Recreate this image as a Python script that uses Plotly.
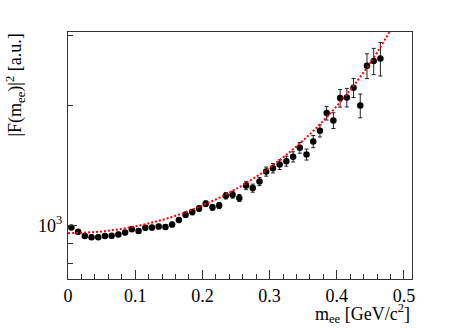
import plotly.graph_objects as go

# bin centres in GeV/c^2
m_ee = [0.005, 0.015, 0.025, 0.035, 0.045, 0.055, 0.065, 0.075, 0.085, 0.095,
        0.105, 0.115, 0.125, 0.135, 0.145, 0.155, 0.165, 0.175, 0.185, 0.195,
        0.205, 0.215, 0.225, 0.235, 0.245, 0.255, 0.265, 0.275, 0.285, 0.295,
        0.305, 0.315, 0.325, 0.335, 0.345, 0.355, 0.365, 0.375, 0.385, 0.395,
        0.405, 0.415, 0.425, 0.435, 0.445, 0.455, 0.465]

ff2 = [987, 963, 940, 934, 934, 940, 941, 949, 959, 978,
       968, 986, 987, 993, 991, 1005, 1031, 1063, 1080, 1102,
       1134, 1110, 1122, 1187, 1195, 1172, 1259, 1241, 1289, 1366,
       1393, 1422, 1451, 1488, 1568, 1508, 1626, 1730, 1917, 1837,
       2091, 2099, 2220, 2003, 2522, 2592, 2632]

ff2_err = [11, 11, 11, 11, 11, 11, 12, 12, 12, 12,
           12, 13, 13, 13, 13, 14, 15, 16, 17, 18,
           19, 19, 20, 22, 24, 24, 29, 29, 30, 36,
           38, 40, 42, 44, 49, 48, 57, 61, 76, 84,
           107, 113, 122, 138, 181, 197, 255]

# fit curve
fit_x = [0.0, 0.05, 0.1, 0.15, 0.2, 0.25, 0.3, 0.35, 0.4, 0.45, 0.5]
fit_y = [956, 965, 994, 1044, 1122, 1235, 1398, 1636, 1996, 2566, 3550]

x_ticks = [0, 0.1, 0.2, 0.3, 0.4, 0.5]
x_ticktext = ["0", "0.1", "0.2", "0.3", "0.4", "0.5"]
y_ticks = [1000]
y_ticktext = ["10<sup>3</sup>"]
y_minor = [800, 900, 2000, 3000]

font = "Liberation Serif, Times New Roman, serif"

fig = go.Figure()

fig.add_trace(go.Scatter(
    x=m_ee, y=ff2,
    mode="markers",
    marker=dict(color="black", size=6.5),
    error_y=dict(type="data", array=ff2_err, color="#222222", thickness=1, width=2),
    showlegend=False
))

fig.add_trace(go.Scatter(
    x=fit_x, y=fit_y,
    mode="lines",
    line=dict(color="#ff0000", width=2, dash="2px,2px", shape="spline"),
    showlegend=False
))

fig.update_layout(
    width=458, height=329,
    margin=dict(l=68, r=46, t=32, b=50),
    paper_bgcolor="white",
    plot_bgcolor="white",
    font=dict(family=font, size=18, color="black"),
    xaxis=dict(
        range=[0, 0.512],
        tickvals=x_ticks, ticktext=x_ticktext,
        ticks="inside", ticklen=9, tickwidth=1, tickcolor="#333333",
        minor=dict(dtick=0.02, tick0=0, ticks="inside", ticklen=5, tickcolor="#333333"),
        showline=True, linecolor="#333333", linewidth=1, mirror=True,
        showgrid=False, zeroline=False, automargin=False,
        tickfont=dict(family=font, size=18),
    ),
    yaxis=dict(
        type="log",
        range=[2.865, 3.4867],
        tickvals=y_ticks, ticktext=y_ticktext,
        ticks="inside", ticklen=9, tickwidth=1, tickcolor="#333333",
        minor=dict(tickvals=y_minor, ticks="inside", ticklen=5, tickcolor="#333333"),
        showline=True, linecolor="#333333", linewidth=1, mirror=True,
        showgrid=False, zeroline=False, automargin=False,
        ticklabelstandoff=1,
        tickfont=dict(family=font, size=18),
    ),
)

fig.add_annotation(
    text="|F(m<sub>ee</sub>)|<sup>2</sup> [a.u.]",
    xref="paper", yref="paper", x=-0.154, y=1.0,
    xanchor="center", yanchor="top", textangle=-90,
    showarrow=False, font=dict(family=font, size=18, color="black")
)

fig.add_annotation(
    text="m<sub>ee</sub> [GeV/c<sup>2</sup>]",
    xref="paper", yref="paper", x=1.0, y=-0.138,
    xanchor="right", yanchor="middle",
    showarrow=False, font=dict(family=font, size=18, color="black")
)

# page has a default 8px body margin, drop it so the figure sits at 0,0
fig.write_html("out.html", config={"displayModeBar": False},
               post_script="document.body.style.margin='0';document.body.style.overflow='hidden';")
